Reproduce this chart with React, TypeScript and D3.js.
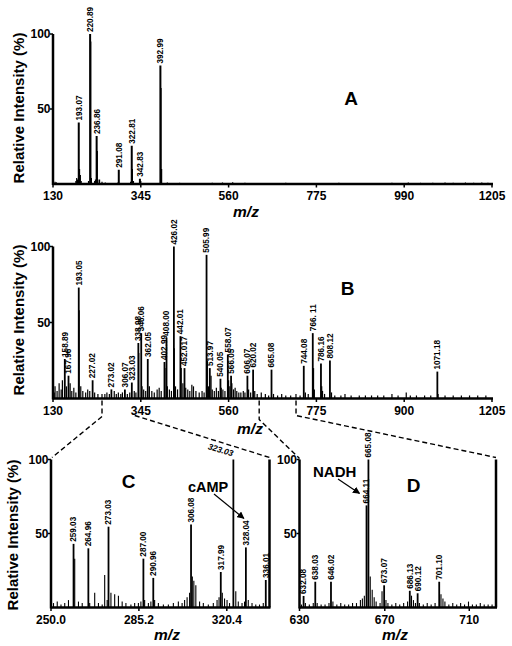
import React from 'react';
import * as d3 from 'd3';

// ---------------- DATA ----------------
// Panel A
const aLabelMz = [193.07, 220.89, 236.86, 291.08, 322.81, 342.83, 392.99];
const aLabelInt = [41, 100, 32, 9.5, 25.5, 3.5, 79];
const aLabelText = ['193.07', '220.89', '236.86', '291.08', '322.81', '342.83', '392.99'];
const aMinorMz = [135, 138, 186, 188, 190, 195, 197, 199, 217, 222.5, 224, 232, 234, 238.5, 240, 244, 250, 258, 289, 320, 324.5, 327, 345, 394.5, 396, 410, 440, 470, 520, 545, 570, 600, 640, 700, 760, 830, 880, 930, 960, 1000, 1030, 1060, 1090, 1110, 1140, 1160, 1180, 1195];
const aMinorInt = [1.5, 1.2, 2, 4, 3, 10, 6, 2, 2, 95, 4, 2, 3, 22, 3, 3, 1.5, 1, 1, 1.5, 10, 2, 2, 64, 10, 1, 0.8, 0.7, 0.8, 1, 1.2, 0.8, 0.7, 0.8, 0.7, 0.8, 0.6, 0.7, 0.8, 1, 0.8, 0.9, 1, 0.8, 1, 0.9, 1, 0.8];

// Panel B
const bLabelMz = [158.89, 167.96, 193.05, 227.02, 273.02, 306.07, 323.03, 338.98, 346.06, 362.05, 402.99, 408.0, 426.02, 442.01, 452.017, 505.99, 513.97, 540.05, 558.07, 566.05, 606.07, 620.02, 665.08, 744.08, 766.11, 786.16, 808.12, 1071.18];
const bLabelInt = [26, 15, 73, 12, 6, 6, 10.5, 36.5, 43, 26, 24, 40, 100, 41, 20, 94.5, 20, 13, 29, 15, 15, 19, 19, 21.5, 43, 23, 25, 17.7];
const bLabelText = ['158.89', '167.96', '193.05', '227.02', '273.02', '306.07', '323.03', '338.98', '346.06', '362.05', '402.99', '408.00', '426.02', '442.01', '452.017', '505.99', '513.97', '540.05', '558.07', '566.05', '606.07', '620.02', '665.08', '744.08', '766. 11', '786.16', '808.12', '1071.18'];
const bMinorMz = [133, 135, 140, 145, 150, 153, 163, 172, 176, 181, 186, 194.05, 198, 203, 210, 215, 220, 232, 240, 250, 257, 262, 268, 280, 285, 290, 296, 300, 312, 318, 329, 333, 340, 348, 352, 357, 366, 372, 378, 385, 390, 395, 404, 410, 415, 420, 427, 430, 435, 444, 448, 455, 460, 465, 470, 474, 480, 488, 495, 500, 508, 511, 517, 520, 525, 530, 535, 542, 546, 551, 560, 563, 568, 572, 576, 580, 585, 590, 596, 600, 609, 614, 624, 630, 640, 650, 658, 670, 680, 690, 700, 712, 725, 735, 748, 755, 768, 770, 788, 790, 795, 812, 820, 835, 845, 860, 880, 895, 910, 925, 940, 960, 975, 995, 1005, 1020, 1040, 1055, 1073, 1090, 1110, 1130, 1150, 1170, 1190];
const bMinorInt = [4, 8, 5, 10, 6, 12, 8, 10, 5, 7, 4, 58, 8, 5, 4, 6, 5, 4, 3, 3, 3, 4, 3, 5, 3, 4, 3, 4, 3, 4, 5, 4, 30, 8, 6, 5, 8, 5, 4, 6, 7, 5, 20, 8, 6, 5, 33, 8, 6, 20, 10, 7, 6, 5, 9, 8, 5, 4, 5, 4, 25, 8, 15, 6, 5, 7, 5, 7, 6, 5, 12, 8, 10, 6, 7, 5, 4, 4, 5, 4, 6, 4, 5, 3, 4, 3, 2, 3, 2, 3, 2, 2, 3, 2, 4, 3, 20, 6, 8, 5, 3, 4, 2, 2, 3, 2, 2, 2, 2, 2, 2, 3, 2, 4, 2, 2, 2, 2, 3, 2, 2, 2, 2, 2, 2];

// Panel C
const cLabelMz = [259.03, 264.96, 273.03, 287.0, 290.96, 306.08, 317.99, 328.04, 336.01];
const cLabelInt = [43, 40, 54.6, 33, 20, 56, 24, 40.6, 18.6];
const cLabelText = ['259.03', '264.96', '273.03', '287.00', '290.96', '306.08', '317.99', '328.04', '336.01'];
const cTopMz = 323.03;
const cTopText = '323.03';
const cMinorMz = [251, 252.5, 254, 255.5, 257, 259.5, 261, 262.5, 265.5, 267.5, 269, 270.5, 271.5, 272.5, 274, 275.5, 277, 278.5, 280, 282, 283.5, 285, 286, 287.5, 289, 290, 291.5, 293, 295, 297, 299, 301, 302.5, 303.5, 304.5, 305.5, 306.6, 307.2, 308, 309.5, 311, 313, 315, 316.5, 317.3, 318.6, 319.5, 320.5, 321.5, 324, 325, 326.5, 327.5, 329, 330.5, 332, 333.5, 335];
const cMinorInt = [3, 4, 2, 3, 5, 33, 4, 3, 3, 10, 3, 2, 22, 5, 10, 9, 8, 4, 3, 2, 3, 3, 4, 5, 3, 4, 5, 3, 2, 2, 3, 4, 3, 5, 7, 10, 21, 18, 15, 4, 3, 2, 3, 5, 7, 10, 6, 5, 3, 11, 4, 3, 4, 5, 3, 2, 2, 3];

// Panel D
const dLabelMz = [632.08, 638.03, 646.02, 664.11, 665.08, 673.07, 686.13, 690.12, 701.1];
const dLabelInt = [7.8, 17.4, 17.4, 69, 100, 15, 11.3, 9.6, 17.4];
const dLabelText = ['632.08', '638.03', '646.02', '664.11', '665.08', '673.07', '686.13', '690.12', '701.10'];
const dMinorMz = [631, 633, 635, 637, 639, 641, 643, 645, 647, 649, 651, 653, 655, 657, 659, 661, 662, 663, 666, 667, 668, 669, 671, 672, 674, 675, 677, 679, 681, 683, 685, 687, 688, 689, 691, 693, 695, 697, 699, 702, 703, 704, 706, 708, 710, 712, 714, 716, 718, 720, 722, 724, 726, 728];
const dMinorInt = [2, 3, 2, 3, 3, 2, 2, 3, 4, 2, 3, 2, 2, 3, 3, 5, 6, 8, 21, 12, 7, 4, 3, 11, 5, 3, 2, 3, 2, 3, 4, 8, 5, 3, 3, 2, 3, 2, 3, 9, 6, 4, 2, 3, 2, 3, 2, 4, 2, 2, 3, 2, 2, 2];

// Axes ticks
const abTickValues = [130, 345, 560, 775, 990, 1205];
const aTickLabels = ['130', '345', '560', '775', '990', '1205'];
const bTickLabels = ['130', '345', '560', '775', '900', '1205'];
const cTickValues = [250, 285.2, 320.4];
const cTickLabels = ['250.0', '285.2', '320.4'];
const dTickValues = [630, 673.4, 716.4];
const dTickLabels = ['630', '670', '710'];
const yTickValues = [50, 100];
const yTickLabels = ['50', '100'];

// ---------------- DRAWING ----------------
const FONT = "'Liberation Sans', Arial, Helvetica, sans-serif";

type Scale = d3.ScaleLinear<number, number>;

function Bars({ mz, inten, xs, ys, w }: { mz: number[]; inten: number[]; xs: Scale; ys: Scale; w: number }) {
  return (
    <g>
      {mz.map((m, i) => (
        <line key={i} x1={xs(m)} x2={xs(m)} y1={ys(0)} y2={ys(inten[i])} stroke="#000" strokeWidth={w} />
      ))}
    </g>
  );
}

function PeakLabels({ mz, inten, text, xs, ys }: { mz: number[]; inten: number[]; text: string[]; xs: Scale; ys: Scale }) {
  return (
    <g>
      {mz.map((m, i) => (
        <text
          key={i}
          transform={`translate(${xs(m)},${ys(inten[i]) - 2}) rotate(-90)`}
          dy="0.35em"
          fontSize={8.2}
          fontWeight="bold"
          fontFamily={FONT}
        >
          {text[i]}
        </text>
      ))}
    </g>
  );
}

function Axes({ xs, ys, xTicks, xLabels, yTicks, yLabels }: { xs: Scale; ys: Scale; xTicks: number[]; xLabels: string[]; yTicks: number[]; yLabels: string[] }) {
  const [x0, x1] = xs.range();
  const y0 = ys(0);
  const yTop = ys(100);
  return (
    <g fontFamily={FONT} fontWeight="bold">
      <line x1={x0} x2={x1 + 1} y1={y0} y2={y0} stroke="#000" strokeWidth={2.5} />
      <line x1={x0} x2={x0} y1={y0 + 1} y2={yTop} stroke="#000" strokeWidth={2.5} />
      {xTicks.map((t, i) => (
        <g key={i}>
          <line x1={xs(t)} x2={xs(t)} y1={y0} y2={y0 + 3.5} stroke="#000" strokeWidth={1.5} />
          <text x={xs(t)} y={y0 + 16} textAnchor="middle" fontSize={12}>
            {xLabels[i]}
          </text>
        </g>
      ))}
      {yTicks.map((t, i) => (
        <g key={i}>
          <line x1={x0 - 3} x2={x0} y1={ys(t)} y2={ys(t)} stroke="#000" strokeWidth={1.5} />
          <text x={x0 - 2.5} y={ys(t)} dy="0.36em" textAnchor="end" fontSize={12}>
            {yLabels[i]}
          </text>
        </g>
      ))}
    </g>
  );
}

function YTitle({ x, y }: { x: number; y: number }) {
  return (
    <text transform={`translate(${x},${y}) rotate(-90)`} textAnchor="middle" dy="0.35em" fontSize={15} fontWeight="bold" fontFamily={FONT}>
      Relative Intensity (%)
    </text>
  );
}

function MZ({ x, y }: { x: number; y: number }) {
  return (
    <text x={x} y={y} textAnchor="middle" fontSize={15.5} fontWeight="bold" fontStyle="italic" fontFamily={FONT}>
      m/z
    </text>
  );
}

function Letter({ x, y, t }: { x: number; y: number; t: string }) {
  return (
    <text x={x} y={y} textAnchor="middle" fontSize={19} fontWeight="bold" fontFamily={FONT}>
      {t}
    </text>
  );
}

export default function App() {
  const xAB = d3.scaleLinear().domain([130, 1205]).range([53, 492]);
  const yA = d3.scaleLinear().domain([0, 100]).range([184, 34]);
  const yB = d3.scaleLinear().domain([0, 100]).range([398.5, 246.5]);
  const xC = d3.scaleLinear().domain([250, 337.5]).range([51, 269.5]);
  const yCD = d3.scaleLinear().domain([0, 100]).range([607.5, 459.5]);
  const xD = d3.scaleLinear().domain([630, 730]).range([299.5, 496]);

  const dash = '5,3';
  const line = d3.line();
  const bBase = yB(0);
  const topCD = yCD(100);
  const connectors: [number, number][][] = [
    [[xAB(250), bBase + 2], [xAB(250), bBase + 18], [xC(250) + 1, topCD - 2]],
    [[xAB(337.5) - 3, bBase + 17], [xC(337.5), topCD - 2]],
    [[xAB(630) + 2, bBase + 2], [xAB(630) + 2, bBase + 21], [xD(630), topCD - 1]],
    [[xAB(730) - 2, bBase + 2], [xAB(730) - 2, bBase + 17], [xD(730), topCD - 2]],
  ];

  const camp = { x: xC(328.04), y: yCD(40.6) - 29 };
  const nadh = { x: xD(664.11), y: yCD(69) };

  return (
    <svg width={512} height={646} style={{ position: 'absolute', left: 0, top: 0, background: '#fff' }}>
      <defs>
        <marker id="ah" viewBox="0 0 10 10" refX={9} refY={5} markerWidth={6} markerHeight={6} orient="auto">
          <path d="M0,0 L10,5 L0,10 z" fill="#000" />
        </marker>
      </defs>
      <rect width={512} height={646} fill="#fff" />

      {/* Panel A */}
      <Bars mz={aMinorMz} inten={aMinorInt} xs={xAB} ys={yA} w={1.2} />
      <Bars mz={aLabelMz} inten={aLabelInt} xs={xAB} ys={yA} w={2} />
      <PeakLabels mz={aLabelMz} inten={aLabelInt} text={aLabelText} xs={xAB} ys={yA} />
      <Axes xs={xAB} ys={yA} xTicks={abTickValues} xLabels={aTickLabels} yTicks={yTickValues} yLabels={yTickLabels} />
      <YTitle x={19} y={108} />
      <MZ x={246} y={217} />
      <Letter x={351} y={105} t="A" />

      {/* Panel B */}
      <Bars mz={bMinorMz} inten={bMinorInt} xs={xAB} ys={yB} w={1.2} />
      <Bars mz={bLabelMz} inten={bLabelInt} xs={xAB} ys={yB} w={1.8} />
      <PeakLabels mz={bLabelMz} inten={bLabelInt} text={bLabelText} xs={xAB} ys={yB} />
      <Axes xs={xAB} ys={yB} xTicks={abTickValues} xLabels={bTickLabels} yTicks={yTickValues} yLabels={yTickLabels} />
      <YTitle x={19} y={320} />
      <MZ x={250} y={434} />
      <Letter x={347.5} y={295} t="B" />

      {/* connectors */}
      {connectors.map((pts, i) => (
        <path key={i} d={line(pts) || ''} fill="none" stroke="#000" strokeWidth={1.4} strokeDasharray={dash} />
      ))}

      {/* Panel C */}
      <Bars mz={cMinorMz} inten={cMinorInt} xs={xC} ys={yCD} w={1.1} />
      <Bars mz={cLabelMz} inten={cLabelInt} xs={xC} ys={yCD} w={1.8} />
      <Bars mz={[cTopMz]} inten={[100]} xs={xC} ys={yCD} w={1.8} />
      <line x1={xC(337.5)} x2={xC(337.5)} y1={yCD(0)} y2={yCD(100)} stroke="#000" strokeWidth={2.5} />
      <PeakLabels mz={cLabelMz} inten={cLabelInt} text={cLabelText} xs={xC} ys={yCD} />
      <text
        transform={`translate(${xC(cTopMz) - 1},${yCD(100) - 3}) rotate(17)`}
        textAnchor="end"
        fontSize={8.5}
        fontWeight="bold"
        fontStyle="italic"
        fontFamily={FONT}
      >
        {cTopText}
      </text>
      <Axes xs={xC} ys={yCD} xTicks={cTickValues} xLabels={cTickLabels} yTicks={yTickValues} yLabels={yTickLabels} />
      <YTitle x={13} y={535} />
      <MZ x={167} y={640} />
      <Letter x={128.5} y={488} t="C" />
      <text x={188} y={492} fontSize={14.5} fontWeight="bold" fontFamily={FONT}>
        cAMP
      </text>
      <line x1={214} y1={494} x2={camp.x - 2} y2={camp.y} stroke="#000" strokeWidth={1.2} markerEnd="url(#ah)" />

      {/* Panel D */}
      <Bars mz={dMinorMz} inten={dMinorInt} xs={xD} ys={yCD} w={1.1} />
      <Bars mz={dLabelMz} inten={dLabelInt} xs={xD} ys={yCD} w={1.8} />
      <line x1={xD(730)} x2={xD(730)} y1={yCD(0)} y2={yCD(100)} stroke="#000" strokeWidth={2.5} />
      <PeakLabels mz={dLabelMz} inten={dLabelInt} text={dLabelText} xs={xD} ys={yCD} />
      <Axes xs={xD} ys={yCD} xTicks={dTickValues} xLabels={dTickLabels} yTicks={yTickValues} yLabels={yTickLabels} />
      <MZ x={395} y={640} />
      <Letter x={413.5} y={492} t="D" />
      <text x={313} y={477} fontSize={15} fontWeight="bold" fontFamily={FONT}>
        NADH
      </text>
      <line x1={338} y1={479} x2={nadh.x - 7} y2={nadh.y - 12} stroke="#000" strokeWidth={1.2} markerEnd="url(#ah)" />
    </svg>
  );
}
